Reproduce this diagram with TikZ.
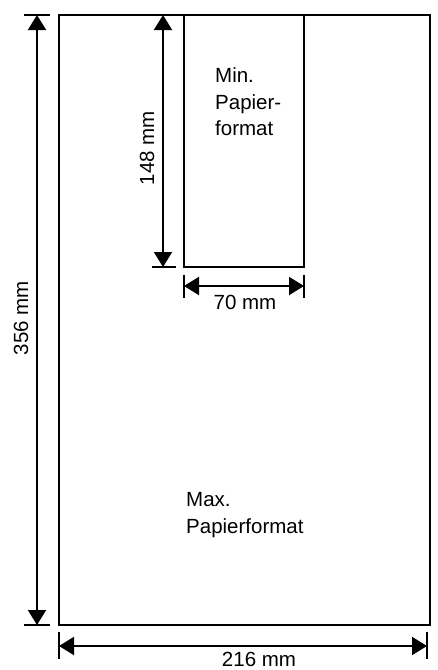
\documentclass[tikz,border=0pt]{standalone}
\usepackage{fontspec}
\setmainfont{Liberation Sans}
\usetikzlibrary{arrows.meta,calc,positioning}
\tikzset{
  sheet/.style={line width=2.2pt},
  dimline/.style={line width=2pt,{Triangle[length=15pt,width=18pt]}-{Triangle[length=15pt,width=18pt]}},
  extline/.style={line width=1.8pt},
  dimlabel/.style={font=\fontsize{20.5}{26.5}\selectfont,inner sep=0pt},
}

\begin{document}
\begin{tikzpicture}[x=1pt,y=-1pt]
  \useasboundingbox (0,0) rectangle (437,670);
  % paper outlines
  \coordinate (maxNW) at (59,15);
  \coordinate (maxSE) at (430,625);
  \coordinate (minNW) at (184,15);
  \coordinate (minSE) at (304,267);
  \draw[sheet] (maxNW) rectangle (maxSE);
  \draw[sheet] (minNW) rectangle (minSE);
  % height of max format
  \coordinate (maxTop) at (37,15);
  \coordinate (maxBot) at (37,625);
  \draw[extline] (maxTop) +(-13,0) -- +(13,0);
  \draw[extline] (maxBot) +(-13,0) -- +(13,0);
  \draw[dimline] (maxTop) -- (maxBot);
  \node[dimlabel,rotate=90] (maxHeight) at (21,318) {356 mm};
  % width of max format
  \coordinate (maxLeft)  at (59,646);
  \coordinate (maxRight) at (427,646);
  \draw[extline] (maxLeft) +(0,-14) -- +(0,13);
  \draw[extline] (maxRight) +(0,-14) -- +(0,13);
  \draw[dimline] (maxLeft) -- (maxRight);
  \node[dimlabel] (maxWidth) at (259,659) {216 mm};
  % height of min format
  \coordinate (minTop) at (163,15);
  \coordinate (minBot) at (163,267);
  \draw[extline] (minBot) +(-11,0) -- +(13,0);
  \draw[dimline] (minTop) -- (minBot);
  \node[dimlabel,rotate=90] (minHeight) at (147,148) {148 mm};
  % width of min format
  \coordinate (minLeft)  at (184,286);
  \coordinate (minRight) at (304,286);
  \draw[extline] (minLeft) +(0,-11) -- +(0,12);
  \draw[extline] (minRight) +(0,-11) -- +(0,12);
  \draw[dimline] (minLeft) -- (minRight);
  \node[dimlabel] (minWidth) at (245,302) {70 mm};
  % format names
  \node[dimlabel,anchor=north west,align=left] (minName) at (215,67.5) {Min.\\Papier-\\format};
  \node[dimlabel,anchor=north west,align=left] (maxName) at (186,492.5) {Max.\\Papierformat};
\end{tikzpicture}
\end{document}
